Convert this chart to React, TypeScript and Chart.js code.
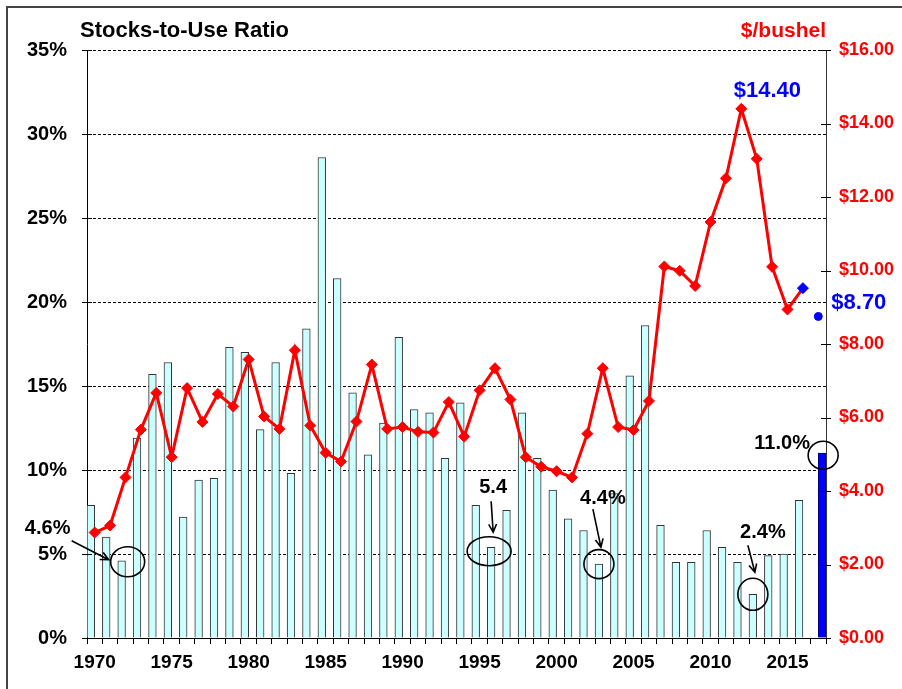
import React, { useEffect, useRef } from 'react';
import { Chart, registerables } from 'chart.js';

Chart.register(...registerables);

// ---------- data ----------
const years = [
  1970, 1971, 1972, 1973, 1974, 1975, 1976, 1977, 1978, 1979,
  1980, 1981, 1982, 1983, 1984, 1985, 1986, 1987, 1988, 1989,
  1990, 1991, 1992, 1993, 1994, 1995, 1996, 1997, 1998, 1999,
  2000, 2001, 2002, 2003, 2004, 2005, 2006, 2007, 2008, 2009,
  2010, 2011, 2012, 2013, 2014, 2015, 2016, 2017,
];

// stocks-to-use ratio (%), historical
const stocksToUse = [
  7.9, 6.0, 4.6, 11.9, 15.7, 16.4, 7.2, 9.4, 9.5, 17.3,
  17.0, 12.4, 16.4, 9.8, 18.4, 28.6, 21.4, 14.6, 10.9, 12.8,
  17.9, 13.6, 13.4, 10.7, 14.0, 7.9, 5.4, 7.6, 13.4, 10.7,
  8.8, 7.1, 6.4, 4.4, 8.6, 15.6, 18.6, 6.7, 4.5, 4.5,
  6.4, 5.4, 4.5, 2.6, 4.9, 5.0, 8.2, null,
];

// stocks-to-use ratio (%), projection
const stocksToUseProjected = [
  null, null, null, null, null, null, null, null, null, null,
  null, null, null, null, null, null, null, null, null, null,
  null, null, null, null, null, null, null, null, null, null,
  null, null, null, null, null, null, null, null, null, null,
  null, null, null, null, null, null, null, 11.0,
];

// price ($/bushel)
const price = [
  2.87, 3.06, 4.37, 5.67, 6.67, 4.92, 6.80, 5.88, 6.64, 6.30,
  7.58, 6.03, 5.69, 7.83, 5.78, 5.04, 4.80, 5.89, 7.44, 5.69,
  5.74, 5.61, 5.59, 6.42, 5.48, 6.74, 7.34, 6.49, 4.92, 4.66,
  4.54, 4.37, 5.56, 7.34, 5.74, 5.66, 6.45, 10.11, 9.99, 9.58,
  11.32, 12.51, 14.40, 13.04, 10.10, 8.94, 9.52, null,
];

// price projection ($/bushel)
const priceProjected = [
  null, null, null, null, null, null, null, null, null, null,
  null, null, null, null, null, null, null, null, null, null,
  null, null, null, null, null, null, null, null, null, null,
  null, null, null, null, null, null, null, null, null, null,
  null, null, null, null, null, null, null, 8.75,
];

const leftTicks = [0, 5, 10, 15, 20, 25, 30, 35];
const rightTicks = [0, 2, 4, 6, 8, 10, 12, 14, 16];

const leftTitle = 'Stocks-to-Use Ratio';
const rightTitle = '$/bushel';

// callout texts attached to bars
const barCalloutYears = [1972, 1996, 2003, 2013, 2017];
const barCalloutTexts = ['4.6%', '5.4', '4.4%', '2.4%', '11.0%'];
// price labels
const priceLabelYears = [2012, 2017];
const priceLabelTexts = ['$14.40', '$8.70'];

// ---------- styling of callouts (pixel offsets relative to the mark) ----------
const barCalloutStyle = [
  { ds: 0, ell: [6, 1, 17, 15], txt: [-74, -32], arrow: [-50, -20, -13, -1] },
  { ds: 0, ell: [-2, 4, 22, 14.5], txt: [2, -60], arrow: [0, -46, 2, -15] },
  { ds: 0, ell: [0, 0, 15, 14.5], txt: [4, -66], arrow: [-6, -55, 2, -17] },
  { ds: 0, ell: [0, 0, 15, 16], txt: [10, -62], arrow: [-5, -49, 2, -22] },
  { ds: 1, ell: [1, 2, 15, 14], txt: [-40, -10], arrow: null as null | number[] },
];
const priceLabelStyle = [
  { ds: 2, off: [26, -18], align: 'center' as CanvasTextAlign },
  { ds: 3, off: [13, -14], align: 'left' as CanvasTextAlign },
];

const FONT = '"Liberation Sans", Arial, Helvetica, sans-serif';

const decorPlugin = {
  id: 'decor',
  afterDraw(chart: any) {
    const ctx: CanvasRenderingContext2D = chart.ctx;
    const { left, right, top } = chart.chartArea;
    const yL = chart.scales.y;
    const yR = chart.scales.y2;
    ctx.save();

    // crossing tick marks on both value axes
    ctx.strokeStyle = '#000';
    ctx.lineWidth = 1;
    ctx.beginPath();
    leftTicks.forEach((v) => {
      const py = Math.round(yL.getPixelForValue(v)) + 0.5;
      ctx.moveTo(left - 5, py);
      ctx.lineTo(left + 5, py);
    });
    rightTicks.forEach((v) => {
      const py = Math.round(yR.getPixelForValue(v)) + 0.5;
      ctx.moveTo(right - 5, py);
      ctx.lineTo(right + 5, py);
    });
    ctx.stroke();

    // axis titles
    ctx.textBaseline = 'middle';
    ctx.textAlign = 'left';
    ctx.fillStyle = '#000';
    ctx.font = `bold 22px ${FONT}`;
    ctx.fillText(leftTitle, left - 7, top - 19);
    ctx.font = `bold 21px ${FONT}`;
    ctx.textAlign = 'right';
    ctx.fillStyle = '#ff0000';
    ctx.fillText(rightTitle, right, top - 19);

    // bar callouts
    barCalloutYears.forEach((yr, i) => {
      const st = barCalloutStyle[i];
      const idx = years.indexOf(yr);
      const el = chart.getDatasetMeta(st.ds).data[idx];
      if (!el) return;
      const bx = el.x;
      const by = el.y;
      ctx.strokeStyle = '#000';
      ctx.lineWidth = 1.6;
      ctx.beginPath();
      ctx.ellipse(bx + st.ell[0], by + st.ell[1], st.ell[2], st.ell[3], 0, 0, Math.PI * 2);
      ctx.stroke();
      if (st.arrow) {
        const x1 = bx + st.arrow[0];
        const y1 = by + st.arrow[1];
        const x2 = bx + st.arrow[2];
        const y2 = by + st.arrow[3];
        const a = Math.atan2(y2 - y1, x2 - x1);
        ctx.beginPath();
        ctx.moveTo(x1, y1);
        ctx.lineTo(x2, y2);
        ctx.moveTo(x2 - 9 * Math.cos(a - 0.45), y2 - 9 * Math.sin(a - 0.45));
        ctx.lineTo(x2, y2);
        ctx.lineTo(x2 - 9 * Math.cos(a + 0.45), y2 - 9 * Math.sin(a + 0.45));
        ctx.stroke();
      }
      ctx.font = `bold 20px ${FONT}`;
      ctx.fillStyle = '#000';
      ctx.textAlign = 'center';
      ctx.textBaseline = 'middle';
      ctx.fillText(barCalloutTexts[i], bx + st.txt[0], by + st.txt[1]);
    });

    // price labels
    priceLabelYears.forEach((yr, i) => {
      const st = priceLabelStyle[i];
      const idx = years.indexOf(yr);
      const el = chart.getDatasetMeta(st.ds).data[idx];
      if (!el) return;
      ctx.font = `bold 22px ${FONT}`;
      ctx.fillStyle = '#0000ff';
      ctx.textAlign = st.align;
      ctx.textBaseline = 'middle';
      ctx.fillText(priceLabelTexts[i], el.x + st.off[0], el.y + st.off[1]);
    });

    ctx.restore();
  },
};

export default function App() {
  const ref = useRef<HTMLCanvasElement>(null);

  useEffect(() => {
    if (!ref.current) return;
    const pointColors = price.map((_, i) => (i === price.length - 2 ? '#0000ff' : '#ff0000'));
    const chart = new Chart(ref.current, {
      type: 'bar',
      data: {
        labels: years.map(String),
        datasets: [
          {
            type: 'bar',
            data: stocksToUse,
            yAxisID: 'y',
            backgroundColor: '#ccffff',
            borderColor: '#333333',
            borderWidth: 1,
            categoryPercentage: 1,
            barPercentage: 1,
            order: 2,
          },
          {
            type: 'bar',
            data: stocksToUseProjected,
            yAxisID: 'y',
            backgroundColor: '#0000ff',
            borderColor: '#00007a',
            borderWidth: 1,
            categoryPercentage: 1,
            barPercentage: 1,
            order: 2,
          },
          {
            type: 'line',
            data: price,
            yAxisID: 'y2',
            borderColor: '#ff0000',
            borderWidth: 3,
            tension: 0,
            pointStyle: 'rectRot',
            pointRadius: 5.5,
            pointBackgroundColor: pointColors,
            pointBorderColor: pointColors,
            pointBorderWidth: 1,
            order: 1,
          },
          {
            type: 'line',
            data: priceProjected,
            yAxisID: 'y2',
            showLine: false,
            pointStyle: 'circle',
            pointRadius: 4,
            pointBackgroundColor: '#0000ff',
            pointBorderColor: '#0000ff',
            order: 0,
          },
        ] as any,
      },
      options: {
        responsive: false,
        animation: false,
        layout: { padding: { top: 50, left: 0, right: 0, bottom: 0 } },
        plugins: {
          legend: { display: false },
          tooltip: { enabled: false },
          title: { display: false },
        },
        scales: {
          x: {
            type: 'category',
            offset: true,
            grid: {
              display: true,
              drawOnChartArea: false,
              offset: true,
              drawTicks: true,
              tickLength: 6,
              color: '#000',
              lineWidth: 1,
            },
            border: { display: true, color: '#000', width: 1 },
            ticks: {
              autoSkip: false,
              maxRotation: 0,
              minRotation: 0,
              color: '#000',
              padding: 7,
              font: { family: FONT, size: 19, weight: 'bold' },
              callback: (_v: any, i: number) => (years[i] % 5 === 0 ? String(years[i]) : ''),
            },
            afterFit: (s: any) => {
              s.height = 51;
            },
          },
          y: {
            position: 'left',
            min: 0,
            max: 35,
            afterBuildTicks: (s: any) => {
              s.ticks = leftTicks.map((v) => ({ value: v }));
            },
            ticks: {
              color: '#000',
              padding: 20,
              font: { family: FONT, size: 20, weight: 'bold' },
              callback: (v: any) => `${v}%`,
            },
            grid: {
              drawTicks: false,
              lineWidth: 1,
              color: (c: any) => (c.tick && c.tick.value === 0 ? 'rgba(0,0,0,0)' : '#000'),
            },
            border: { display: true, color: '#000', width: 1, dash: [3, 2] },
            afterFit: (s: any) => {
              s.width = 87;
            },
          },
          y2: {
            position: 'right',
            min: 0,
            max: 16,
            afterBuildTicks: (s: any) => {
              s.ticks = rightTicks.map((v) => ({ value: v }));
            },
            ticks: {
              color: '#ff0000',
              padding: 13,
              font: { family: FONT, size: 18, weight: 'bold' },
              callback: (v: any) => `$${Number(v).toFixed(2)}`,
            },
            grid: { display: false, drawTicks: false, drawOnChartArea: false },
            border: { display: true, color: '#333', width: 1 },
            afterFit: (s: any) => {
              s.width = 76;
            },
          },
        },
      } as any,
      plugins: [decorPlugin],
    });
    return () => chart.destroy();
  }, []);

  return (
    <div style={{ position: 'absolute', left: 0, top: 0, width: 902, height: 689, background: '#fff' }}>
      <canvas
        ref={ref}
        width={902}
        height={689}
        style={{ position: 'absolute', left: 0, top: 0, width: 902, height: 689 }}
      />
      <div
        style={{
          position: 'absolute',
          left: 6,
          top: 6,
          width: 896,
          height: 683,
          borderTop: '2px solid #444',
          borderLeft: '2px solid #444',
          boxSizing: 'border-box',
          pointerEvents: 'none',
        }}
      />
    </div>
  );
}
